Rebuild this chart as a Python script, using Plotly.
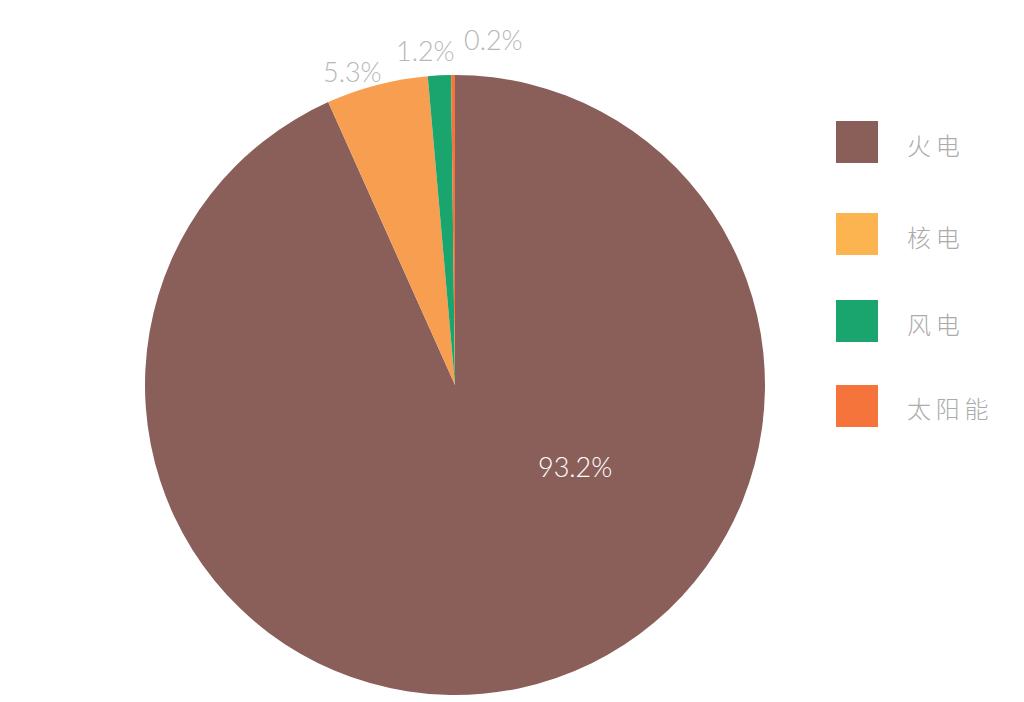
import plotly.graph_objects as go

labels = ["火电", "核电", "风电", "太阳能"]
values = [93.2, 5.3, 1.2, 0.2]
slice_colors = ["#8A5F5A", "#F89E50", "#1AA56F", "#F4743B"]
legend_colors = ["#8A5F5A", "#FBB450", "#1AA56F", "#F4743B"]

# layout-only positions (pixels) for the value labels and legend rows
value_label_pos = [(575, 466), (352, 71), (425, 51), (493, 39)]
value_label_colors = ["#ffffff", "#b8b8b8", "#b8b8b8", "#b8b8b8"]
legend_row_y = [142, 234, 321, 406]

W, H = 1024, 702
px = lambda x: x / W
py = lambda y: (H - y) / H

fig = go.Figure()
fig.add_trace(go.Pie(
    labels=labels, values=values, sort=False, direction="clockwise", rotation=0,
    marker=dict(colors=slice_colors, line=dict(width=0)),
    textinfo="none",
    showlegend=False,
    domain=dict(x=[px(145), px(765)], y=[py(695), py(75)]),
    hoverinfo="label+value",
))

shapes = []
annotations = []
for v, (lx, ly), c in zip(values, value_label_pos, value_label_colors):
    annotations.append(dict(xref="paper", yref="paper", x=px(lx), y=py(ly),
                            text=f"{v:.1f}%", showarrow=False,
                            xanchor="center", yanchor="middle",
                            font=dict(family="Lato", size=27, weight=300, color=c)))

for lab, col, yc in zip(labels, legend_colors, legend_row_y):
    shapes.append(dict(type="rect", xref="paper", yref="paper",
                       x0=px(836), x1=px(878), y0=py(yc + 21), y1=py(yc - 21),
                       fillcolor=col, line=dict(width=0)))
    annotations.append(dict(xref="paper", yref="paper", x=px(905), y=py(yc + 2),
                            text="\u2009".join(lab),
                            showarrow=False, xanchor="left", yanchor="middle",
                            font=dict(family="Noto Sans CJK SC", size=24, weight=300, color="#ababab")))

fig.update_layout(
    width=W, height=H, margin=dict(l=0, r=0, t=0, b=0),
    paper_bgcolor="white", plot_bgcolor="white",
    shapes=shapes, annotations=annotations,
)
fig.write_html("out.html", config={"displayModeBar": False},
               post_script="document.body.style.margin='0';document.body.style.overflow='hidden';")
